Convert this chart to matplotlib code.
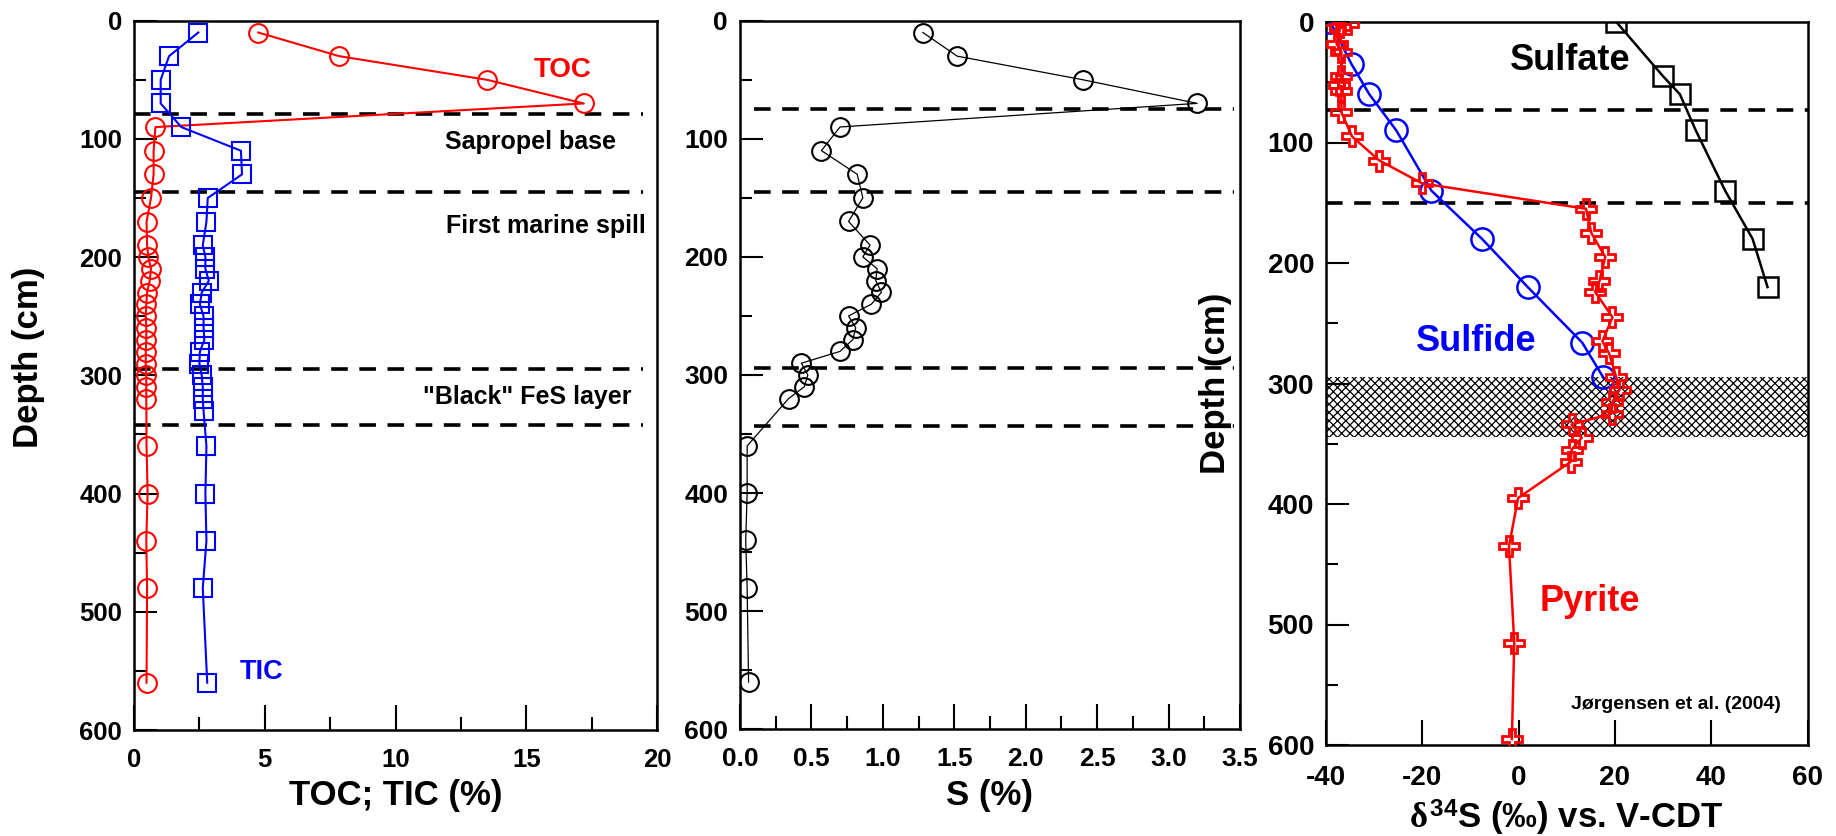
import matplotlib
matplotlib.use('Agg')
import matplotlib.pyplot as plt
from matplotlib.ticker import MultipleLocator

plt.rcParams['font.family'] = ['Liberation Sans', 'DejaVu Sans']
plt.rcParams['font.weight'] = 'bold'
plt.rcParams['axes.unicode_minus'] = False
plt.rcParams['mathtext.fontset'] = 'custom'
plt.rcParams['mathtext.rm'] = 'Liberation Sans:bold'
plt.rcParams['mathtext.bf'] = 'Liberation Sans:bold'
plt.rcParams['mathtext.it'] = 'Liberation Serif'
plt.rcParams['hatch.linewidth'] = 0.9
plt.rcParams['hatch.color'] = 'black'

# ---------------- data ----------------
toc_depth = [10, 30, 50, 70, 90, 110, 130, 150, 170, 190, 200, 210, 220, 230, 240, 250,
             260, 270, 280, 290, 300, 310, 320, 360, 400, 440, 480, 560]
toc = [4.75, 7.85, 13.5, 17.2, 0.82, 0.75, 0.75, 0.65, 0.48, 0.5, 0.55, 0.65, 0.6, 0.5,
       0.47, 0.45, 0.47, 0.47, 0.45, 0.45, 0.47, 0.47, 0.47, 0.48, 0.52, 0.47, 0.5, 0.48]

tic_depth = [10, 30, 50, 70, 90, 110, 130, 150, 170, 190, 200, 210, 220, 230, 240, 250,
             260, 270, 280, 290, 300, 310, 320, 330, 360, 400, 440, 480, 560]
tic = [2.46, 1.34, 1.02, 1.02, 1.81, 4.09, 4.13, 2.82, 2.77, 2.63, 2.73, 2.73, 2.86, 2.59,
       2.52, 2.66, 2.66, 2.69, 2.52, 2.50, 2.59, 2.63, 2.63, 2.66, 2.77, 2.73, 2.77, 2.63, 2.8]

s_depth = [10, 30, 50, 70, 90, 110, 130, 150, 170, 190, 200, 210, 220, 230, 240, 250,
           260, 270, 280, 290, 300, 310, 320, 360, 400, 440, 480, 560]
s_pct = [1.28, 1.52, 2.40, 3.20, 0.70, 0.57, 0.82, 0.86, 0.76, 0.91, 0.86, 0.96, 0.95, 0.99,
         0.92, 0.76, 0.81, 0.79, 0.70, 0.43, 0.475, 0.45, 0.34, 0.05, 0.05, 0.04, 0.05, 0.06]

sulfate_depth = [0, 45, 60, 90, 140, 180, 220]
sulfate_d34s = [20.3, 30.0, 33.5, 36.8, 42.9, 48.6, 51.7]

sulfide_depth = [0, 35, 60, 90, 140, 180, 220, 266, 295]
sulfide_d34s = [-39.1, -34.7, -31.0, -25.4, -18.1, -7.6, 1.9, 13.2, 17.6]

pyrite_depth = [0, 2, 4, 18, 25, 45, 52, 57, 75, 95, 115, 134, 155, 175, 195, 215, 224,
                245, 265, 275, 295, 305, 315, 325, 334, 345, 355, 365, 395, 435, 515, 595]
pyrite_d34s = [-38.5, -35.5, -37.0, -37.8, -36.8, -36.8, -37.3, -36.8, -36.8, -34.6, -28.9,
               -20.0, 14.0, 15.1, 18.0, 16.8, 15.9, 19.5, 17.4, 18.8, 20.3, 21.0, 19.5, 19.3,
               11.0, 13.1, 11.0, 10.8, -0.1, -2.0, -0.9, -1.4]

horizons_p1 = [79, 145, 295, 342]
horizons_p2 = [75, 145, 294, 343]
horizons_p3 = [73, 150]
fes_layer = (295, 344)

# ---------------- figure ----------------
W, H = 1836, 836
fig = plt.figure(figsize=(W / 100, H / 100), dpi=100)


def add_ax(l, r, t, b):
    return fig.add_axes([l / W, 1 - b / H, (r - l) / W, (b - t) / H])


ax1 = add_ax(134, 657, 20.7, 730)
ax2 = add_ax(740, 1240, 20.7, 729.3)
ax3 = add_ax(1326, 1807.5, 22, 745)


def style(ax, xlim, xmaj, xmin, lsize):
    ax.set_ylim(600, 0)
    ax.set_xlim(*xlim)
    ax.xaxis.set_major_locator(MultipleLocator(xmaj))
    if xmin:
        ax.xaxis.set_minor_locator(MultipleLocator(xmin))
    ax.yaxis.set_major_locator(MultipleLocator(100))
    ax.yaxis.set_minor_locator(MultipleLocator(50))
    ax.tick_params(which='both', direction='in', top=False, right=False, width=1.5,
                   labelsize=lsize)
    ax.tick_params(axis='y', which='major', length=16.5, pad=8.6)
    ax.tick_params(axis='y', which='minor', length=8.6)
    ax.tick_params(axis='x', which='major', length=18, pad=13)
    ax.tick_params(axis='x', which='minor', length=9.4)
    for s in ax.spines.values():
        s.set_linewidth(1.8)
    for lab in ax.get_xticklabels() + ax.get_yticklabels():
        lab.set_fontweight('bold')


dash_kw = dict(color='black', lw=2.6, dashes=(4.6, 3.2), zorder=1)

# ---- panel 1 ----
style(ax1, (0, 20), 5, 2.5, 18.5)
for d in horizons_p1:
    ax1.axhline(d, xmin=0.0, xmax=0.973, **dash_kw)
ax1.plot(toc, toc_depth, color='red', lw=1.5, marker='o', ms=13.5, mfc='none',
         mec='red', mew=1.5, zorder=3)
ax1.plot(tic, tic_depth, color='blue', lw=1.5, marker='s', ms=12.5, mfc='none',
         mec='blue', mew=1.5, zorder=3)
ax1.text(16.4, 42, 'TOC', color='red', fontsize=20, ha='center', va='center')
ax1.text(4.86, 551, 'TIC', color='blue', fontsize=19.5, ha='center', va='center')
ax1.text(15.17, 103, 'Sapropel base', fontsize=18, ha='center', va='center')
ax1.text(15.76, 174, 'First marine spill', fontsize=18, ha='center', va='center')
ax1.text(15.02, 318, '"Black" FeS layer', fontsize=18, ha='center', va='center')
ax1.set_xlabel('TOC; TIC (%)', fontsize=25, fontweight='bold', va='center')
ax1.xaxis.set_label_coords(0.5, -0.093)
ax1.set_ylabel('Depth (cm)', fontsize=25, fontweight='bold', va='center')
ax1.yaxis.set_label_coords(-0.202, 0.525)

# ---- panel 2 ----
style(ax2, (0, 3.5), 0.5, 0.25, 19)
for d in horizons_p2:
    ax2.axhline(d, xmin=0.027, xmax=0.988, **dash_kw)
ax2.plot(s_pct, s_depth, color='black', lw=0.9, marker='o', ms=13.5, mfc='none',
         mec='black', mew=1.5, zorder=3)
ax2.set_xlabel('S (%)', fontsize=25, fontweight='bold', va='center')
ax2.xaxis.set_label_coords(0.5, -0.093)

# ---- panel 3 ----
style(ax3, (-40, 60), 20, None, 20)
ax3.tick_params(axis='x', which='major', pad=14.4)
ax3.axhspan(fes_layer[0], fes_layer[1], facecolor='white', edgecolor='black',
            hatch='xxxx', lw=0, zorder=0.5)
for d in horizons_p3:
    ax3.axhline(d, xmin=0.0, xmax=1.0, **dash_kw)
ax3.plot(sulfate_d34s, sulfate_depth, color='black', lw=1.8, marker='s', ms=14,
         mfc='none', mec='black', mew=1.8, zorder=3)
ax3.plot(sulfide_d34s, sulfide_depth, color='blue', lw=1.8, marker='o', ms=16,
         mfc='none', mec='blue', mew=1.8, zorder=3)
ax3.plot(pyrite_d34s, pyrite_depth, color='red', lw=1.8, marker='P', ms=15,
         mfc='none', mec='red', mew=2.0, zorder=4)
ax3.text(10.8, 32, 'Sulfate', color='black', fontsize=26, ha='center', va='center')
ax3.text(-8.7, 265, 'Sulfide', color='blue', fontsize=26, ha='center', va='center')
ax3.text(14.8, 481, 'Pyrite', color='red', fontsize=26, ha='center', va='center')
ax3.text(32.7, 566, 'Jørgensen et al. (2004)', fontsize=14, ha='center', va='center')
ax3.set_xlabel(r'$\delta^{\mathrm{34}}$S (‰) vs. V-CDT', fontsize=25,
               fontweight='bold', va='center')
ax3.xaxis.set_label_coords(0.5, -0.101)
ax3.set_ylabel('Depth (cm)', fontsize=25, fontweight='bold', va='center')
ax3.yaxis.set_label_coords(-0.23, 0.5)

fig.savefig('out.png', dpi=100)
